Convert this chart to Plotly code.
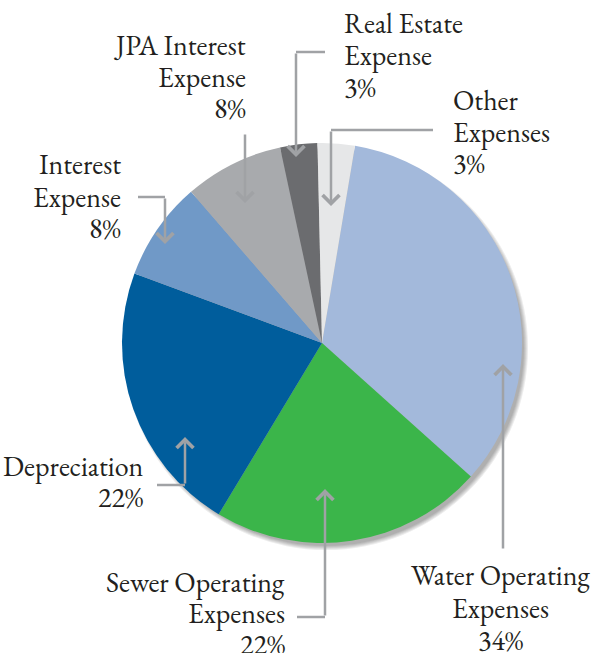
import plotly.graph_objects as go

# Expense breakdown (percent of total)
categories = [
    "Water Operating Expenses",
    "Sewer Operating Expenses",
    "Depreciation",
    "Interest Expense",
    "JPA Interest Expense",
    "Real Estate Expense",
    "Other Expenses",
]
shares = [34, 22, 22, 8, 8, 3, 3]
slice_colors = ["#A3B9DB", "#3BB54A", "#005D9C", "#7099C7", "#A8AAAD", "#6B6C6F", "#E6E7E8"]

# label lines for each slice, in the same order as the categories
label_lines = [
    ["Water Operating", "Expenses"],
    ["Sewer Operating", "Expenses"],
    ["Depreciation"],
    ["Interest", "Expense"],
    ["JPA Interest", "Expense"],
    ["Real Estate", "Expense"],
    ["Other", "Expenses"],
]

W, H = 595, 653
CX, CY, R = 322, 343, 200          # pie centre and radius in pixels
FONT = "EB Garamond"
LINE = "#A0A2A5"

# text placement per slice: anchor x, y of each line, horizontal anchor
text_layout = [
    (500, [575, 608, 640], "center"),
    (287, [582, 613, 644], "right"),
    (145, [466, 497], "right"),
    (123, [164, 197, 228], "right"),
    (248, [45, 77, 108], "right"),
    (342, [23, 55, 87], "left"),
    (451, [100, 132, 163], "left"),
]


def fx(x):
    return x / W


def fy(y):
    return 1 - y / H


def domain(cx, cy, r):
    return dict(x=[fx(cx - r), fx(cx + r)], y=[fy(cy + r), fy(cy - r)])


fig = go.Figure()

# soft drop shadow beneath the pie
for k in range(5):
    fig.add_trace(go.Pie(
        values=[sum(shares)], labels=["shadow"], sort=False,
        marker=dict(colors=["rgba(0,0,0,0.07)"], line=dict(width=0)),
        textinfo="none", hoverinfo="skip", showlegend=False,
        domain=domain(CX + 4, CY + 5, R - 2 + k),
    ))

fig.add_trace(go.Pie(
    labels=categories, values=shares, sort=False,
    direction="clockwise", rotation=9.5,
    marker=dict(colors=slice_colors, line=dict(width=0)),
    textinfo="none", hoverinfo="label+percent", showlegend=False,
    domain=domain(CX, CY, R),
))

annotations = []
for lines, share, (x, ys, anchor) in zip(label_lines, shares, text_layout):
    for text, y in zip(lines + [f"{share}%"], ys):
        annotations.append(dict(
            text=text, x=fx(x), y=fy(y), xref="paper", yref="paper",
            xanchor=anchor, yanchor="middle", align=anchor,
            showarrow=False, font=dict(family=FONT, size=28, color="#231F20"),
        ))

# connectors: optional horizontal lead (x0 -> corner) then arrow from corner to tip
connectors = [
    (None, 245, 133, 245, 203),     # JPA Interest
    (325, 296, 52, 296, 157),       # Real Estate
    (433, 331, 130, 331, 206),      # Other
    (138, 165, 197, 165, 244),      # Interest
    (157, 185, 485, 185, 437),      # Depreciation
    (297, 325, 617, 325, 489),      # Sewer
    (None, 503, 550, 503, 364),     # Water
]
shapes = []
for lead, cxp, cyp, tx, ty in connectors:
    if lead is not None:
        shapes.append(dict(
            type="line", xref="paper", yref="paper",
            x0=fx(lead), y0=fy(cyp), x1=fx(cxp), y1=fy(cyp),
            line=dict(color=LINE, width=2.5),
        ))
    annotations.append(dict(
        text="", x=fx(tx), y=fy(ty), xref="paper", yref="paper",
        ax=cxp - tx, ay=cyp - ty, axref="pixel", ayref="pixel",
        showarrow=True, arrowhead=4, arrowsize=1.3, arrowwidth=2.5,
        arrowcolor=LINE, standoff=0,
    ))

fig.update_layout(
    width=W, height=H,
    margin=dict(l=0, r=0, t=0, b=0),
    paper_bgcolor="white", plot_bgcolor="white",
    annotations=annotations, shapes=shapes,
    showlegend=False,
)

fig.write_html("out.html")
